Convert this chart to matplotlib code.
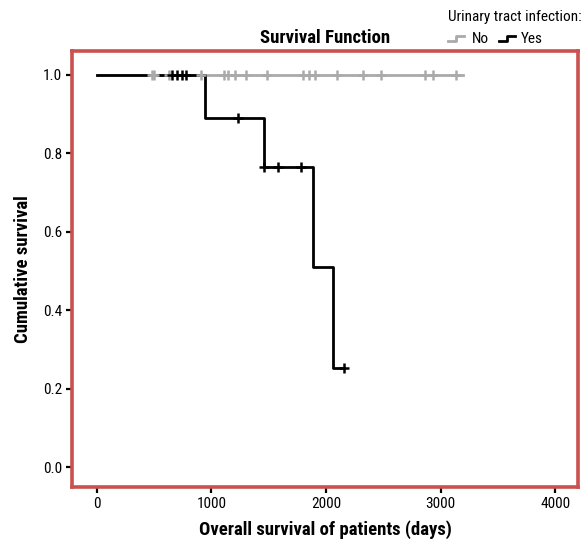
#!/usr/bin/env python3
import matplotlib
matplotlib.use("Agg")
import matplotlib.pyplot as plt
from matplotlib import font_manager
from matplotlib.lines import Line2D

# Kaplan-Meier step data
no_times = [0]
no_surv = [1.0]
no_end = 3195
no_censor_t = [478, 498, 629, 906, 1110, 1145, 1205, 1299, 1482, 1800,
               1850, 1905, 2099, 2326, 2480, 2865, 2937, 3135]
no_censor_s = [1.0] * len(no_censor_t)

yes_times = [0, 943, 1461, 1889, 2064]
yes_surv = [1.0, 0.889, 0.764, 0.509, 0.253]
yes_end = 2160
yes_censor_t = [658, 695, 739, 777, 1231, 1461, 1578, 1779, 2160]
yes_censor_s = [1.0, 1.0, 1.0, 1.0, 0.889, 0.764, 0.764, 0.764, 0.253]

xticks = [0, 1000, 2000, 3000, 4000]
yticks = [0.0, 0.2, 0.4, 0.6, 0.8, 1.0]

# pick a condensed font if one is installed
names = {f.name for f in font_manager.fontManager.ttflist}
family = "DejaVu Sans"
for cand in ["Roboto Condensed", "Liberation Sans Narrow", "Open Sans Condensed",
             "Roboto", "Liberation Sans"]:
    if cand in names:
        family = cand
        break
plt.rcParams["font.family"] = [family, "DejaVu Sans"]

GRAY = "#aaaaaa"
RED = "#c9514f"

fig = plt.figure(figsize=(5.88, 5.48), dpi=100)
ax = fig.add_axes([72 / 588, 1 - 487 / 548, 506 / 588, 436 / 548])


def steps(times, surv, end):
    return list(times) + [end], list(surv) + [surv[-1]]


x, y = steps(no_times, no_surv, no_end)
ax.step(x, y, where="post", color=GRAY, lw=2.0, zorder=2)
x, y = steps(yes_times, yes_surv, yes_end)
ax.step(x, y, where="post", color="black", lw=2.0, zorder=3)
ax.plot(no_censor_t, no_censor_s, ls="none", marker="+", ms=7, mew=1.8,
        color=GRAY, zorder=4)
ax.plot(yes_censor_t, yes_censor_s, ls="none", marker="+", ms=7, mew=1.8,
        color="black", zorder=5)

ax.set_xlim(-218, 4200)
ax.set_ylim(-0.051, 1.061)
ax.set_xticks(xticks)
ax.set_xticklabels([str(v) for v in xticks])
ax.set_yticks(yticks)
ax.set_yticklabels([f"{v:.1f}" for v in yticks])
ax.tick_params(length=4, width=1.6, color="black", labelsize=11, pad=3)
for s in ax.spines.values():
    s.set_color(RED)
    s.set_linewidth(2.6)

ax.set_xlabel("Overall survival of patients (days)", fontsize=13.5,
              fontweight="bold", labelpad=7)
ax.set_ylabel("Cumulative survival", fontsize=13.5, fontweight="bold",
              labelpad=8)
fig.text(325 / 588, 1 - 38 / 548, "Survival Function", ha="center",
         va="center", fontsize=13.5, fontweight="bold")

# legend drawn by hand with step-shaped keys
fig.text(582 / 588, 1 - 17 / 548, "Urinary tract infection:", ha="right",
         va="center", fontsize=11)


def key(x0, color):
    xs = [x0, x0 + 8, x0 + 8, x0 + 16]
    ys = [41, 41, 36, 36]
    fig.add_artist(Line2D([v / 588 for v in xs], [1 - v / 548 for v in ys],
                          color=color, lw=2.0, transform=fig.transFigure))


key(448, GRAY)
fig.text(472 / 588, 1 - 39 / 548, "No", ha="left", va="center", fontsize=11)
key(499, "black")
fig.text(521 / 588, 1 - 39 / 548, "Yes", ha="left", va="center", fontsize=11)

fig.savefig("out.png", dpi=100)
